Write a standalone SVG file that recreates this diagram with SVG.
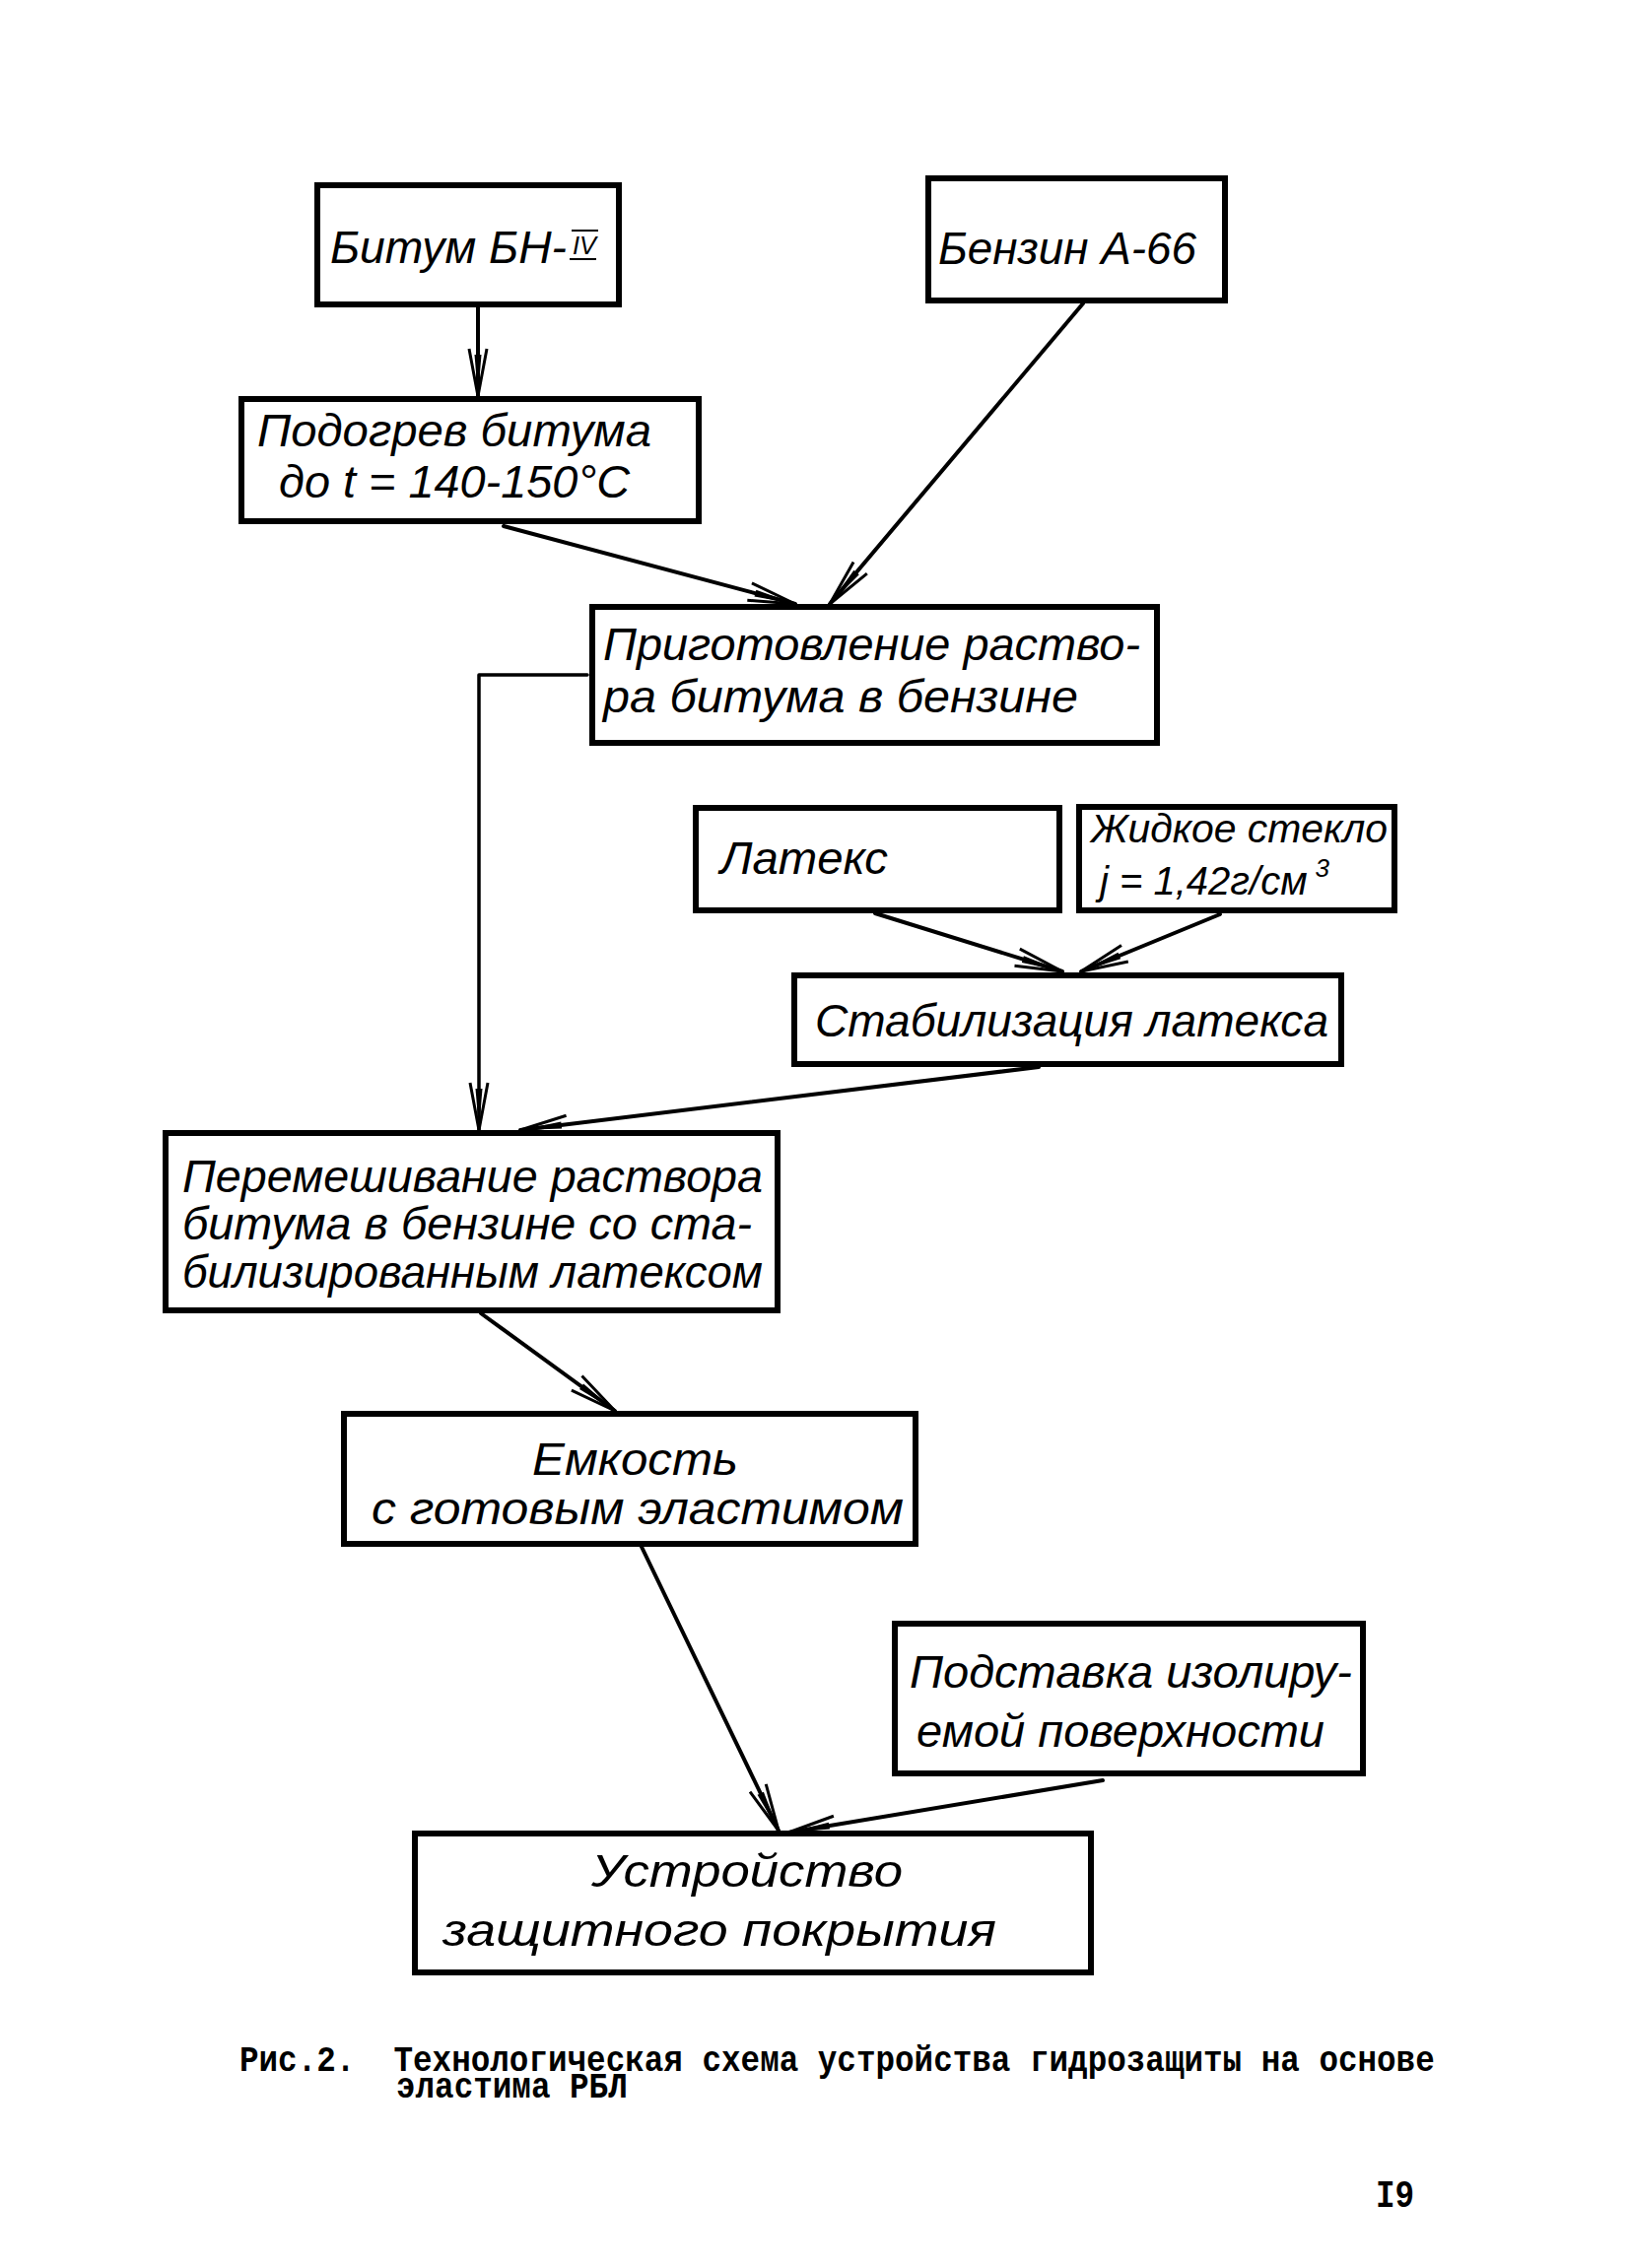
<svg xmlns="http://www.w3.org/2000/svg" width="1654" height="2302" viewBox="0 0 1654 2302">
<style>
.box{fill:none;stroke:#000;stroke-width:6}
.lbl{font-family:"Liberation Sans","DejaVu Sans",sans-serif;font-style:italic;font-size:46px;fill:#000}
.con{fill:none;stroke:#000;stroke-width:4;stroke-linecap:round;stroke-linejoin:round}
.cap{font-family:"Liberation Mono","DejaVu Sans Mono",monospace;font-weight:bold;font-size:32.6px;fill:#000}
</style>
<defs>
<marker id="arr" markerUnits="userSpaceOnUse" orient="auto" refX="0" refY="0" overflow="visible">
<path d="M-48,-9 L0,0 L-48,9" fill="none" stroke="#000" stroke-width="3"/>
<path d="M-42,-3.5 L0,0 L-42,3.5 Z" fill="#000"/>
</marker>
</defs>
<rect width="1654" height="2302" fill="#fff"/>
<g id="connectors">
<line class="con" x1="485" y1="312" x2="485" y2="402" marker-end="url(#arr)"/>
<line class="con" x1="511" y1="534" x2="807" y2="613" marker-end="url(#arr)"/>
<line class="con" x1="1099" y1="308" x2="842" y2="613" marker-end="url(#arr)"/>
<polyline class="con" style="stroke-width:3.5" points="596,685 486,685 486,1147" marker-end="url(#arr)"/>
<line class="con" x1="888" y1="927" x2="1078" y2="986" marker-end="url(#arr)"/>
<line class="con" x1="1238" y1="928" x2="1097" y2="986" marker-end="url(#arr)"/>
<line class="con" x1="1054" y1="1083" x2="528" y2="1147" marker-end="url(#arr)"/>
<line class="con" x1="488" y1="1333" x2="624" y2="1432" marker-end="url(#arr)"/>
<line class="con" x1="651" y1="1570" x2="790" y2="1858" marker-end="url(#arr)"/>
<line class="con" x1="1119" y1="1807" x2="800" y2="1860" marker-end="url(#arr)"/>
</g>
<g id="n1">
<rect class="box" x="322" y="188" width="306" height="121"/>
<text class="lbl" x="335" y="267" textLength="240" lengthAdjust="spacingAndGlyphs">Битум БН-</text>
<text class="lbl" x="581" y="258" style="font-size:26px" textLength="24" lengthAdjust="spacingAndGlyphs">IV</text>
<line x1="580" y1="234" x2="607" y2="234" stroke="#000" stroke-width="2"/>
<line x1="578" y1="263" x2="605" y2="263" stroke="#000" stroke-width="2"/>
</g>
<g id="n2">
<rect class="box" x="942" y="181" width="301" height="124"/>
<text class="lbl" x="952" y="268" textLength="262" lengthAdjust="spacingAndGlyphs">Бензин А-66</text>
</g>
<g id="n3">
<rect class="box" x="245" y="405" width="464" height="124"/>
<text class="lbl" x="261" y="453" textLength="400" lengthAdjust="spacingAndGlyphs">Подогрев битума</text>
<text class="lbl" x="283" y="505" textLength="356" lengthAdjust="spacingAndGlyphs">до t = 140-150°C</text>
</g>
<g id="n4">
<rect class="box" x="601" y="616" width="573" height="138"/>
<text class="lbl" x="612" y="670" textLength="545" lengthAdjust="spacingAndGlyphs">Приготовление раство-</text>
<text class="lbl" x="612" y="723" textLength="482" lengthAdjust="spacingAndGlyphs">ра битума в  бензине</text>
</g>
<g id="n5">
<rect class="box" x="706" y="820" width="369" height="104"/>
<text class="lbl" x="731" y="887" textLength="170" lengthAdjust="spacingAndGlyphs">Латекс</text>
</g>
<g id="n6">
<rect class="box" x="1095" y="819" width="320" height="105"/>
<text class="lbl" x="1107" y="855" style="font-size:40px" textLength="301" lengthAdjust="spacingAndGlyphs">Жидкое стекло</text>
<text class="lbl" x="1116" y="908" style="font-size:40px">j = 1,42г/см<tspan style="font-size:26px" dx="8" dy="-18">3</tspan></text>
</g>
<g id="n7">
<rect class="box" x="806" y="990" width="555" height="90"/>
<text class="lbl" x="827" y="1052" textLength="521" lengthAdjust="spacingAndGlyphs">Стабилизация латекса</text>
</g>
<g id="n8">
<rect class="box" x="168" y="1150" width="621" height="180"/>
<text class="lbl" x="185" y="1210" textLength="589" lengthAdjust="spacingAndGlyphs">Перемешивание раствора</text>
<text class="lbl" x="185" y="1258" textLength="578" lengthAdjust="spacingAndGlyphs">битума в бензине  со ста-</text>
<text class="lbl" x="185" y="1307" textLength="589" lengthAdjust="spacingAndGlyphs">билизированным латексом</text>
</g>
<g id="n9">
<rect class="box" x="349" y="1435" width="580" height="132"/>
<text class="lbl" x="540" y="1497" textLength="209" lengthAdjust="spacingAndGlyphs">Емкость</text>
<text class="lbl" x="377" y="1547" textLength="540" lengthAdjust="spacingAndGlyphs">с готовым эластимом</text>
</g>
<g id="n10">
<rect class="box" x="908" y="1648" width="475" height="152"/>
<text class="lbl" x="923" y="1713" textLength="449" lengthAdjust="spacingAndGlyphs">Подставка изолиру-</text>
<text class="lbl" x="930" y="1773" textLength="414" lengthAdjust="spacingAndGlyphs">емой поверхности</text>
</g>
<g id="n11">
<rect class="box" x="421" y="1861" width="686" height="141"/>
<text class="lbl" x="600" y="1915" textLength="316" lengthAdjust="spacingAndGlyphs">Устройство</text>
<text class="lbl" x="449" y="1975" textLength="562" lengthAdjust="spacingAndGlyphs">защитного  покрытия</text>
</g>
<g id="caption">
<text class="cap" transform="scale(1,1.15)" xml:space="preserve"><tspan x="243" y="1827.8">Рис.2.  Технологическая схема устройства гидрозащиты на основе</tspan><tspan x="402" y="1851.3">эластима РБЛ</tspan></text>
<text class="cap" transform="translate(1396,2240) scale(1,1.2)">I9</text>
</g>
</svg>
